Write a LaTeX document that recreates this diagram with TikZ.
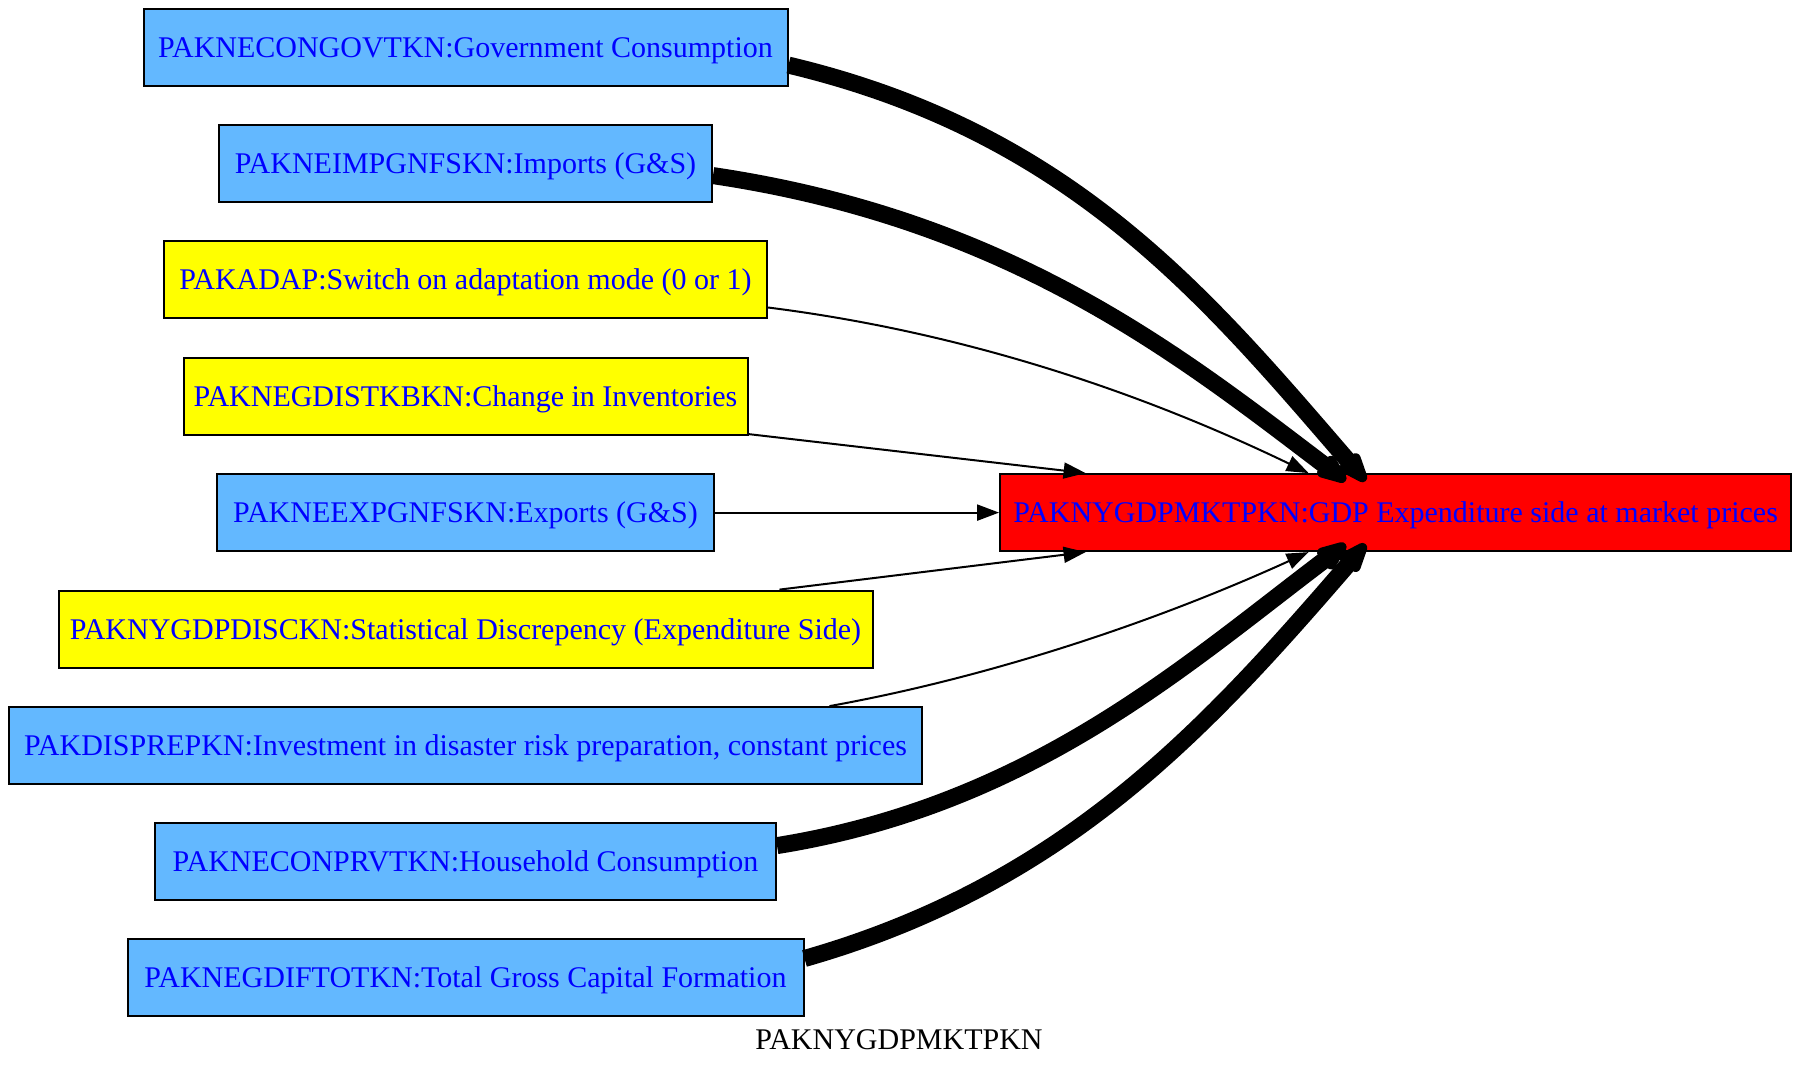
\documentclass[tikz,border=0pt]{standalone}
\usepackage{fontspec}
\setmainfont{Liberation Serif}
\usetikzlibrary{arrows.meta,calc}
\definecolor{nodeblue}{HTML}{63B8FF}
\definecolor{nodeyellow}{HTML}{FFFF00}
\definecolor{nodered}{HTML}{FF0000}
\definecolor{txtblue}{HTML}{0000FF}
\begin{document}
\begin{tikzpicture}[x=0.5pt,y=-0.5pt,
  box/.style={draw=black,line width=1pt,rectangle,minimum height=38.5pt,inner sep=0pt,
    font=\fontsize{15}{18}\selectfont,text=txtblue,text height=10pt,text depth=0pt},
  bluebox/.style={box,fill=nodeblue},
  yellowbox/.style={box,fill=nodeyellow},
  thinedge/.style={line width=1pt,-{Triangle[length=11pt,width=8pt]}},
  thickedge/.style={line width=8.5pt,-{Triangle[length=20pt,width=13pt,round]}}]
\useasboundingbox (0,0) rectangle (1800,1076);

\node[bluebox,minimum width=322pt] (gov) at (465.5,47.1) {PAKNECONGOVTKN:Government Consumption};
\node[bluebox,minimum width=246.5pt] (imp) at (465.5,163.6) {PAKNEIMPGNFSKN:Imports (G\&S)};
\node[yellowbox,minimum width=301.5pt] (adap) at (465.5,279.5) {PAKADAP:Switch on adaptation mode (0 or 1)};
\node[yellowbox,minimum width=282pt] (dist) at (465.5,396.6) {PAKNEGDISTKBKN:Change in Inventories};
\node[bluebox,minimum width=248.5pt] (exp) at (465.5,512.6) {PAKNEEXPGNFSKN:Exports (G\&S)};
\node[yellowbox,minimum width=407pt] (disc) at (465.5,629.1) {PAKNYGDPDISCKN:Statistical Discrepency (Expenditure Side)};
\node[bluebox,minimum width=456.5pt] (prep) at (465.5,745.6) {PAKDISPREPKN:Investment in disaster risk preparation, constant prices};
\node[bluebox,minimum width=310.5pt] (prvt) at (465.5,861.6) {PAKNECONPRVTKN:Household Consumption};
\node[bluebox,minimum width=338pt] (gcf) at (465.5,977.5) {PAKNEGDIFTOTKN:Total Gross Capital Formation};
\node[box,fill=nodered,minimum width=395.5pt] (gdp) at (1395.6,512.6) {PAKNYGDPMKTPKN:GDP Expenditure side at market prices};
\node[font=\fontsize{15}{18}\selectfont,text=black,inner sep=0pt,text height=10pt,text depth=0pt] (lbl) at (899,1039) {PAKNYGDPMKTPKN};

\draw[thickedge] ($(gov.east)+(0,18)$) .. controls (1070,132) and (1205,295) .. ($(gdp.north)+(-30,8)$);
\draw[thickedge] ($(imp.east)+(0,12)$) .. controls (1012,220) and (1183,358) .. ($(gdp.north)+(-50,8)$);
\draw[thinedge] ($(adap.east)+(0,28)$) .. controls (947,330) and (1124,384) .. ($(gdp.north)+(-87,0)$);
\draw[thinedge] ($(dist.south east)+(0,-2)$) -- ($(gdp.north)+(-310,0)$);
\draw[thinedge] (exp.east) -- (gdp.west);
\draw[thinedge] ($(disc.north)+(314,0)$) -- ($(gdp.south)+(-310,0)$);
\draw[thinedge] ($(prep.north)+(364,0)$) .. controls (980,679) and (1144,627) .. ($(gdp.south)+(-87,0)$);
\draw[thickedge] ($(prvt.east)+(0,-16)$) .. controls (1030,805) and (1183,667) .. ($(gdp.south)+(-50,-8)$);
\draw[thickedge] ($(gcf.east)+(0,-19)$) .. controls (1065,884) and (1205,730) .. ($(gdp.south)+(-30,-8)$);
\end{tikzpicture}
\end{document}
